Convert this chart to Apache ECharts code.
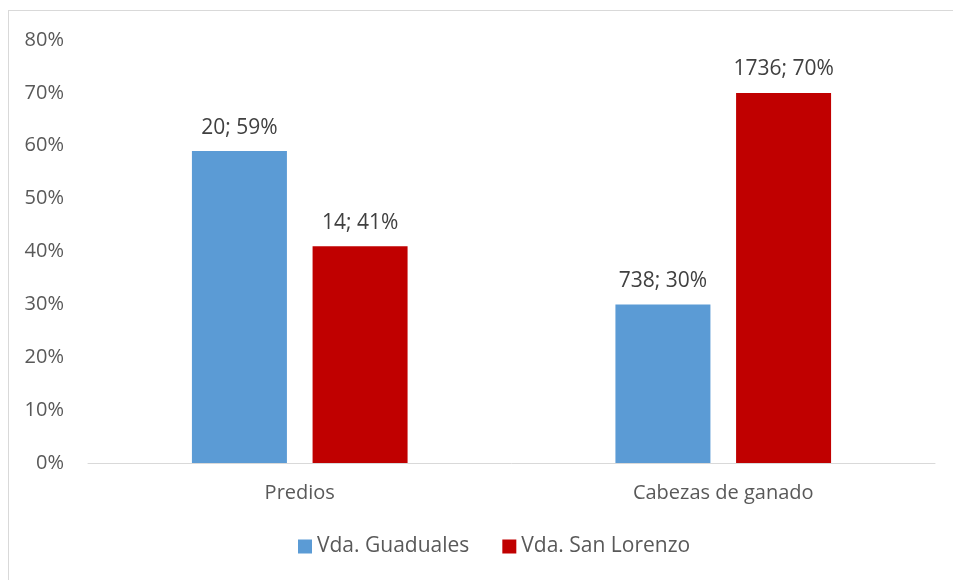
<!DOCTYPE html>
<html>
<head>
<meta charset="utf-8">
<script src="https://cdn.jsdelivr.net/npm/echarts@6/dist/echarts.min.js"></script>
<style>
  html, body { margin: 0; padding: 0; background: #fff; }
  #frame { position: absolute; left: 8px; top: 10px; width: 1000px; height: 620px; border: 1px solid #d9d9d9; }
  #chart { position: absolute; left: 0; top: 0; width: 953px; height: 580px; }
</style>
</head>
<body>
<div id="frame"></div>
<div id="chart"></div>
<script>
const categories = ['Predios', 'Cabezas de ganado'];
const guadualesCount = [20, 738];
const guadualesPct = [59, 30];
const sanLorenzoCount = [14, 1736];
const sanLorenzoPct = [41, 70];
const yTicks = [0, 10, 20, 30, 40, 50, 60, 70, 80];

const font = 'Open Sans';
const chart = echarts.init(document.getElementById('chart'));

function labelFor(counts) {
  return {
    show: true,
    position: 'top',
    distance: 13,
    color: '#404040',
    fontFamily: font,
    fontSize: 21,
    formatter: p => counts[p.dataIndex] + '; ' + p.value + '%'
  };
}

chart.setOption({
  animation: false,
  textStyle: { fontFamily: font },
  grid: { left: 88, right: 18, top: 40, bottom: 117, containLabel: false },
  legend: {
    bottom: 18,
    left: 293,
    itemWidth: 14,
    itemHeight: 14,
    itemGap: 33,
    icon: 'rect',
    textStyle: { color: '#595959', fontSize: 21, fontFamily: font },
    data: ['Vda. Guaduales', 'Vda. San Lorenzo']
  },
  xAxis: {
    type: 'category',
    data: categories,
    axisLine: { lineStyle: { color: '#d9d9d9', width: 1 } },
    axisTick: { show: false },
    axisLabel: { color: '#595959', fontSize: 20, fontFamily: font, margin: 20 }
  },
  yAxis: {
    type: 'value',
    min: yTicks[0],
    max: yTicks[yTicks.length - 1],
    interval: 10,
    splitLine: { show: false },
    axisLine: { show: false },
    axisTick: { show: false },
    axisLabel: { color: '#595959', fontSize: 20, fontFamily: font, margin: 24, formatter: v => v + '%' }
  },
  series: [
    {
      name: 'Vda. Guaduales',
      type: 'bar',
      data: guadualesPct,
      barWidth: 95,
      barGap: '27%',
      itemStyle: { color: '#5b9bd5' },
      label: labelFor(guadualesCount)
    },
    {
      name: 'Vda. San Lorenzo',
      type: 'bar',
      data: sanLorenzoPct,
      barWidth: 95,
      itemStyle: { color: '#c00000' },
      label: labelFor(sanLorenzoCount)
    }
  ]
});
</script>
</body>
</html>
